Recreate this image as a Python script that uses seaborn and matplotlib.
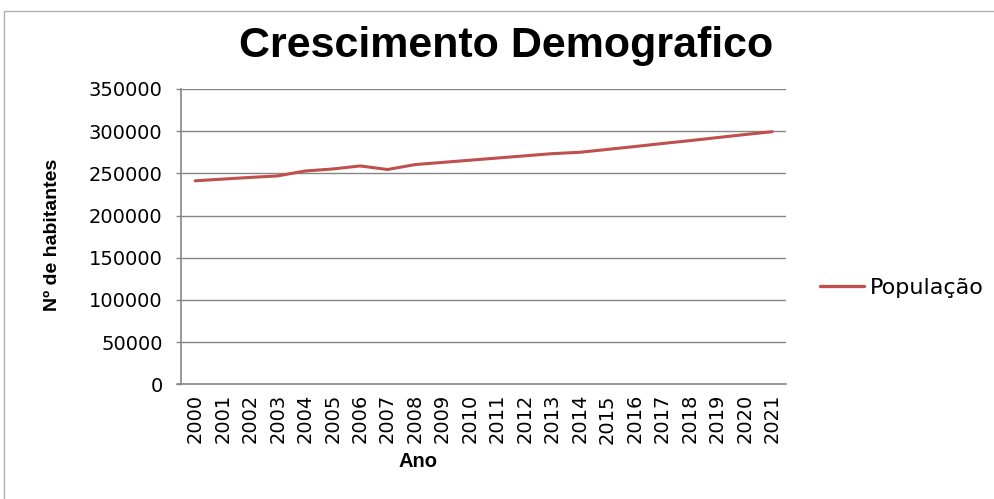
import matplotlib
matplotlib.use("Agg")
import matplotlib.pyplot as plt
import seaborn as sns
import pandas as pd
from matplotlib.patches import Rectangle

anos = ["2000", "2001", "2002", "2003", "2004", "2005", "2006", "2007", "2008", "2009", "2010",
        "2011", "2012", "2013", "2014", "2015", "2016", "2017", "2018", "2019", "2020", "2021"]
populacao = [241200, 243200, 245200, 247000, 252800, 255200, 258800, 254600, 260400, 263000,
             265600, 268200, 270800, 273400, 275000, 278400, 281800, 285400, 288800, 292400,
             296000, 299400]
yticks = [0, 50000, 100000, 150000, 200000, 250000, 300000, 350000]

df = pd.DataFrame({"Ano": anos, "População": populacao, "serie": "População"})

sns.set_theme(style="white")
plt.rcParams["font.family"] = ["DejaVu Sans"]
plt.rcParams["text.color"] = "black"
plt.rcParams["axes.labelcolor"] = "black"

fig = plt.figure(figsize=(9.95, 4.99), dpi=100)
fig.patch.set_facecolor("white")
ax = fig.add_axes([181.5 / 995, 1 - 384.3 / 499, 604.5 / 995, 295.3 / 499])

sns.lineplot(data=df, x="Ano", y="População", hue="serie", palette=["#C0504D"],
             linewidth=2.2, ax=ax, sort=False)

ax.set_xlim(-0.5, len(anos) - 0.5)
ax.set_ylim(0, 350000)
ax.set_yticks(yticks)
ax.set_yticklabels([str(v) for v in yticks])
ax.set_xticks(range(len(anos)))
ax.set_xticklabels(anos, rotation=90, va="top")

for v in yticks[1:]:
    ax.axhline(v, color="#868686", lw=1.0, zorder=0, xmin=0, xmax=1)
ax.plot([-0.5 - 5 / 27.48, -0.5], [0, 0], color="#868686", lw=1.2, clip_on=False)

for s in ["top", "right"]:
    ax.spines[s].set_visible(False)
for s in ["left", "bottom"]:
    ax.spines[s].set_color("#868686")
    ax.spines[s].set_linewidth(1.2)

ax.tick_params(axis="y", which="major", left=True, length=3.6, width=1.0, color="#868686",
               pad=10, labelsize=14, labelcolor="black")
ax.tick_params(axis="x", which="major", bottom=False, length=0, pad=7, labelsize=14,
               labelcolor="black")

ax.set_xlabel("Ano", fontsize=14.5, fontweight="bold", family=["Liberation Sans", "DejaVu Sans"])
ax.set_ylabel("Nº de habitantes", fontsize=14, fontweight="bold",
              family=["Liberation Sans", "DejaVu Sans"])
ax.xaxis.set_label_coords(0.391, -0.263)
ax.yaxis.set_label_coords(-0.2126, 0.5056)
ax.xaxis.label.set_va("center")
ax.yaxis.label.set_va("center")

fig.text(0.509, 1 - 46 / 499, "Crescimento Demografico", ha="center", va="center",
         fontsize=31, fontweight="bold", color="black",
         family=["Liberation Sans", "DejaVu Sans"])

leg = ax.legend(loc="center left", bbox_to_anchor=(820 / 995, 1 - 288 / 499),
                bbox_transform=fig.transFigure, frameon=False, fontsize=16,
                handlelength=2.0, handletextpad=0.25, borderpad=0, borderaxespad=0)
for h in leg.get_lines():
    h.set_linewidth(2.4)
for t in leg.get_texts():
    t.set_color("black")

fig.add_artist(Rectangle((4 / 995, -0.1), 1.2, 1 - 11 / 499 + 0.1, transform=fig.transFigure,
                         fill=False, edgecolor="#B0B0B0", lw=1.0))

fig.savefig("out.png", dpi=100, facecolor="white")
